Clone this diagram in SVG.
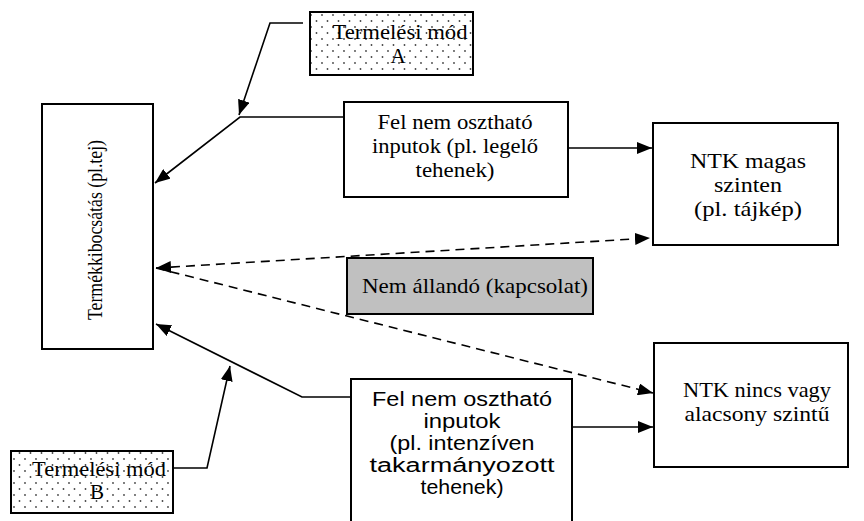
<svg xmlns="http://www.w3.org/2000/svg" width="864" height="521" viewBox="0 0 864 521">
<style>
.box{fill:#fff;stroke:#000;stroke-width:2}
.dot{fill:url(#dots);stroke:#000;stroke-width:2}
.gray{fill:#c0c0c0;stroke:#000;stroke-width:2}
.t{font-family:"Liberation Serif","Times New Roman",serif;font-size:21px;fill:#000;text-anchor:middle}
.s{font-family:"Liberation Sans",Arial,sans-serif;font-size:20px;fill:#000;text-anchor:middle}
.ln{fill:none;stroke:#000;stroke-width:1.6}
.dash{fill:none;stroke:#000;stroke-width:1.6;stroke-dasharray:9 6}
</style>
<defs>
<pattern id="dots" width="11" height="12" patternUnits="userSpaceOnUse">
<rect width="11" height="12" fill="#fff"/>
<circle cx="3" cy="3" r="0.9" fill="#444"/>
<circle cx="8.5" cy="9" r="0.9" fill="#444"/>
</pattern>
<marker id="arr" markerWidth="16" markerHeight="12" refX="15" refY="6" orient="auto-start-reverse" markerUnits="userSpaceOnUse">
<path d="M0,0 L15,6 L0,12 z" fill="#000"/>
</marker>
</defs>

<g id="connectors">
<polyline class="ln" points="303,23 270,23 239,115" marker-end="url(#arr)"/>
<polyline class="ln" points="344,117 240,117 155,183" marker-end="url(#arr)"/>
<line class="ln" x1="568" y1="148" x2="652" y2="148" marker-end="url(#arr)"/>
<line class="dash" x1="156" y1="268" x2="650" y2="238" marker-start="url(#arr)" marker-end="url(#arr)"/>
<line class="dash" x1="156" y1="268" x2="653" y2="393" marker-end="url(#arr)"/>
<polyline class="ln" points="351,397 302,397 156,324" marker-end="url(#arr)"/>
<polyline class="ln" points="173,468 207,468 230,366" marker-end="url(#arr)"/>
<line class="ln" x1="572" y1="427" x2="653" y2="427" marker-end="url(#arr)"/>
</g>

<g id="modA">
<rect class="dot" x="310" y="12" width="163" height="63"/>
<text class="t" x="400" y="39" textLength="135" lengthAdjust="spacingAndGlyphs">Termelési mód</text>
<text class="t" x="398" y="63">A</text>
</g>

<g id="termek">
<rect class="box" x="42" y="104" width="111" height="245"/>
<text class="t" transform="translate(102,230) rotate(-90)" x="0" y="0" font-size="21" textLength="180" lengthAdjust="spacingAndGlyphs">Termékkibocsátás (pl.tej)</text>
</g>

<g id="felnemA">
<rect class="box" x="344" y="102" width="224" height="95"/>
<text class="t" x="455" y="129" textLength="155" lengthAdjust="spacingAndGlyphs">Fel nem osztható</text>
<text class="t" x="455" y="153" textLength="166" lengthAdjust="spacingAndGlyphs">inputok (pl. legelő</text>
<text class="t" x="455" y="177" textLength="79" lengthAdjust="spacingAndGlyphs">tehenek)</text>
</g>

<g id="ntkMagas">
<rect class="box" x="653" y="123" width="185" height="122"/>
<text class="t" x="748" y="168" textLength="116" lengthAdjust="spacingAndGlyphs">NTK magas</text>
<text class="t" x="748" y="192" textLength="68" lengthAdjust="spacingAndGlyphs">szinten</text>
<text class="t" x="748" y="216" textLength="108" lengthAdjust="spacingAndGlyphs">(pl. tájkép)</text>
</g>

<g id="nemAllando">
<rect class="gray" x="347" y="258" width="246" height="56"/>
<text class="t" x="475" y="293" textLength="226" lengthAdjust="spacingAndGlyphs">Nem állandó (kapcsolat)</text>
</g>

<g id="ntkNincs">
<rect class="box" x="654" y="343" width="194" height="124"/>
<text class="t" x="757" y="397" textLength="148" lengthAdjust="spacingAndGlyphs">NTK nincs vagy</text>
<text class="t" x="757" y="421" textLength="145" lengthAdjust="spacingAndGlyphs">alacsony szintű</text>
</g>

<g id="felnemB">
<rect class="box" x="351" y="379" width="221" height="160"/>
<text class="s" x="462" y="406" textLength="180" lengthAdjust="spacingAndGlyphs">Fel nem osztható</text>
<text class="s" x="462" y="428" textLength="77" lengthAdjust="spacingAndGlyphs">inputok</text>
<text class="s" x="462" y="450" textLength="145" lengthAdjust="spacingAndGlyphs">(pl. intenzíven</text>
<text class="s" x="462" y="472" textLength="185" lengthAdjust="spacingAndGlyphs">takarmányozott</text>
<text class="s" x="462" y="494" textLength="83" lengthAdjust="spacingAndGlyphs">tehenek)</text>
</g>

<g id="modB">
<rect class="dot" x="11" y="451" width="162" height="62"/>
<text class="t" x="99" y="476" textLength="134" lengthAdjust="spacingAndGlyphs">Termelési mód</text>
<text class="t" x="97" y="499">B</text>
</g>
</svg>
